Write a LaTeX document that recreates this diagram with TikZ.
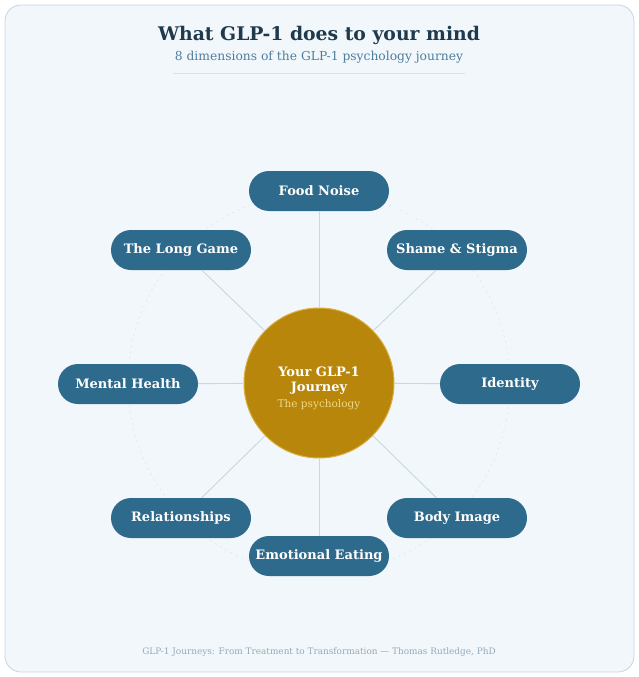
\documentclass[tikz,border=0pt]{standalone}
\usepackage{fontspec}
\setmainfont{DejaVu Serif}
\definecolor{bgfill}{HTML}{F2F7FB}
\definecolor{bgline}{HTML}{C5D5E0}
\definecolor{pill}{HTML}{2E6A8C}
\definecolor{gold}{HTML}{B8860B}
\definecolor{goldedge}{HTML}{D9B040}
\definecolor{goldtext}{HTML}{F0D88C}
\definecolor{titlec}{HTML}{1F3A4D}
\definecolor{subc}{HTML}{4E7E9C}
\definecolor{linkc}{HTML}{C9D7E1}
\definecolor{footc}{HTML}{93ABBB}
\tikzset{
  pillbox/.style={rounded corners=20pt, fill=pill, minimum width=140pt, minimum height=40pt, inner sep=0pt, text=white, font=\bfseries\fontsize{13}{15}\selectfont},
  link/.style={draw=linkc, line width=0.9pt},
}
\begin{document}
\begin{tikzpicture}[x=1pt,y=-1pt]
\useasboundingbox (0,0) rectangle (639,677);
\draw[fill=bgfill, draw=bgline, line width=0.8pt, rounded corners=16pt] (5,5) rectangle (634,672);
\node[font=\bfseries\fontsize{18.8}{22}\selectfont, text=titlec] (title) at (319,35) {What GLP-1 does to your mind};
\node[font=\fontsize{12.3}{14}\selectfont, text=subc] (sub) at (319,57) {8 dimensions of the GLP-1 psychology journey};
\draw[draw=linkc!70, line width=0.7pt] (173,73) -- (465,73);
\draw[draw=linkc!60, dashed, dash pattern=on 2pt off 4pt, line width=0.6pt] (319,383) circle (191);
\node[circle, fill=gold, draw=goldedge, line width=1pt, minimum size=150pt, inner sep=0pt] (hub) at (319,383) {};
\node[font=\bfseries\fontsize{13}{15}\selectfont, text=white, align=center] (hubt) at (319,381) {Your GLP-1\\Journey};
\node[font=\fontsize{10.5}{12}\selectfont, text=goldtext] (hubs) at (319,405) {The psychology};
\node[pillbox] (p1) at (319,191) {Food Noise};
\node[pillbox] (p2) at (457,250) {Shame \& Stigma};
\node[pillbox] (p3) at (510,384) {Identity};
\node[pillbox] (p4) at (457,518) {Body Image};
\node[pillbox] (p5) at (319,556) {Emotional Eating};
\node[pillbox] (p6) at (181,518) {Relationships};
\node[pillbox] (p7) at (128,384) {Mental Health};
\node[pillbox] (p8) at (181,250) {The Long Game};
\foreach \p in {p1,p2,p3,p4,p5,p6,p7,p8} { \draw[link] (hub) -- (\p); }
\node[font=\fontsize{8.9}{10}\selectfont, text=footc] (foot) at (319,652) {GLP-1 Journeys: From Treatment to Transformation — Thomas Rutledge, PhD};
\end{tikzpicture}
\end{document}
